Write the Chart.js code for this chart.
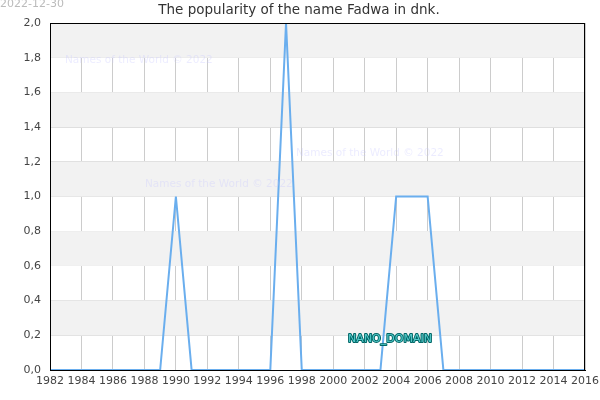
<!DOCTYPE html>
<html><head><meta charset="utf-8">
<script src="https://cdn.jsdelivr.net/npm/chart.js@4/dist/chart.umd.min.js"></script>
<style>html,body{margin:0;padding:0;background:#fff}#c{display:block}</style>
</head><body>
<canvas id="c" width="600" height="400"></canvas>
<script>
const years = [1982,1983,1984,1985,1986,1987,1988,1989,1990,1991,1992,1993,1994,1995,1996,1997,1998,1999,2000,2001,2002,2003,2004,2005,2006,2007,2008,2009,2010,2011,2012,2013,2014,2015,2016];
const counts = [0,0,0,0,0,0,0,0,1,0,0,0,0,0,0,2,0,0,0,0,0,0,1,1,1,0,0,0,0,0,0,0,0,0,0];
const titleText = "The popularity of the name Fadwa in dnk.";
const dateText = "2022-12-30";
const watermark = "Names of the World © 2022";
const domainText = "NANO_DOMAIN";
const FONT = "'DejaVu Sans', sans-serif";

const deco = {
  id: 'deco',
  beforeDatasetsDraw(chart) {
    const {ctx, chartArea: a, scales: {y}} = chart;
    ctx.save();
    ctx.fillStyle = '#f2f2f2';
    for (let v = 0.2; v < 2.0; v += 0.4) {
      const y1 = y.getPixelForValue(v), y2 = y.getPixelForValue(v + 0.2);
      ctx.fillRect(a.left, y2, a.right - a.left, y1 - y2);
    }
    ctx.restore();
  },
  afterDraw(chart) {
    const {ctx, chartArea: a} = chart;
    ctx.save();
    ctx.strokeStyle = '#000'; ctx.lineWidth = 1;
    ctx.strokeRect(a.left + 0.5, a.top + 0.5, a.right - a.left - 1, a.bottom - a.top);
    ctx.font = '13.5px ' + FONT; ctx.fillStyle = '#333'; ctx.textAlign = 'center'; ctx.textBaseline = 'middle';
    ctx.fillText(titleText, 299, 10);
    ctx.font = '11px ' + FONT; ctx.fillStyle = '#bbb'; ctx.textAlign = 'left';
    ctx.fillText(dateText, 0, 4);
    ctx.font = '10.5px ' + FONT;
    ctx.fillStyle = 'rgba(200,200,255,0.35)';
    ctx.fillText(watermark, 65, 60);
    ctx.fillText(watermark, 145, 184);
    ctx.fillText(watermark, 296, 153);
    ctx.font = '11px ' + FONT; ctx.textAlign = 'center';
    ctx.lineWidth = 2; ctx.strokeStyle = '#066'; ctx.lineJoin = 'round';
    ctx.strokeText(domainText, 390, 339);
    ctx.fillStyle = '#5cc'; ctx.fillText(domainText, 390, 339);
    ctx.restore();
  }
};

new Chart(document.getElementById('c'), {
  type: 'line',
  data: { datasets: [{ data: years.map((x, i) => ({x, y: counts[i]})), borderColor: '#6aaeee', borderWidth: 2, pointRadius: 0, tension: 0, fill: false }] },
  options: {
    responsive: false, animation: false,
    layout: { padding: { top: 23, right: 0, left: 0, bottom: 0 } },
    plugins: { legend: { display: false }, tooltip: { enabled: false }, title: { display: false } },
    scales: {
      x: {
        type: 'linear', min: 1982, max: 2016,
        afterFit(s) { s.height = 30; s.paddingRight = 15; },
        ticks: { stepSize: 2, padding: 5, color: '#444', font: { size: 11, family: FONT }, callback: v => String(v), maxRotation: 0 },
        grid: { color: '#ccc', drawTicks: false },
        border: { color: '#000' }
      },
      y: {
        min: 0, max: 2,
        afterFit(s) { s.width = 50; },
        ticks: { stepSize: 0.2, padding: 9, color: '#444', font: { size: 11, family: FONT }, callback: v => v.toFixed(1).replace('.', ',') },
        grid: { color: '#ddd', drawTicks: false },
        border: { color: '#000' }
      }
    }
  },
  plugins: [deco]
});
</script>
</body></html>
